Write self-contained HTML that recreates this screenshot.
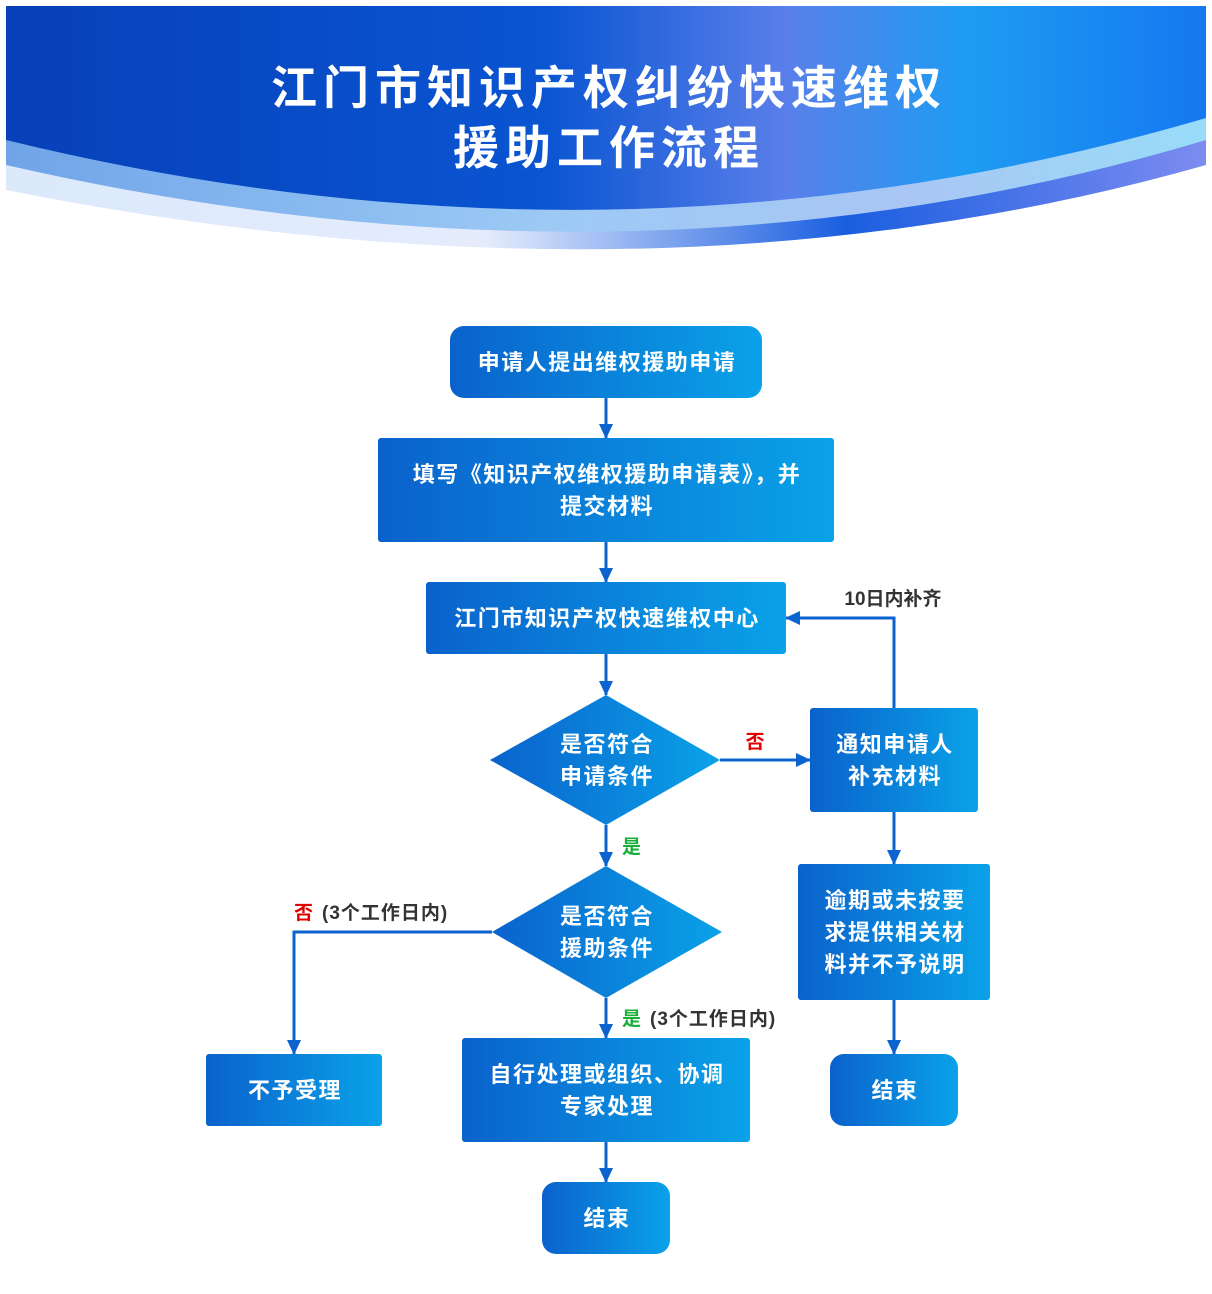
<!DOCTYPE html>
<html><head><meta charset="utf-8"><style>
html,body{margin:0;padding:0;background:#fff;}
svg{display:block;}
text{font-family:"Liberation Sans","Noto Sans CJK SC",sans-serif;font-weight:bold;}
</style></head><body>
<svg width="1212" height="1294" viewBox="0 0 1212 1294" xmlns="http://www.w3.org/2000/svg">
<defs>
<linearGradient id="main" x1="0" y1="0" x2="1" y2="0">
<stop offset="0" stop-color="#0740b8"/><stop offset="0.45" stop-color="#0a55d2"/>
<stop offset="0.65" stop-color="#5a7fea"/><stop offset="0.8" stop-color="#1e9cf2"/><stop offset="1" stop-color="#1578f0"/>
</linearGradient>
<linearGradient id="b2" x1="0" y1="0" x2="1" y2="0">
<stop offset="0" stop-color="#6fa4e8"/><stop offset="0.45" stop-color="#9ccaf5"/><stop offset="0.75" stop-color="#a9c6f4"/><stop offset="1" stop-color="#98dcf8"/>
</linearGradient>
<linearGradient id="b3" x1="0" y1="0" x2="1" y2="0">
<stop offset="0" stop-color="#dbe9fb"/><stop offset="0.4" stop-color="#e4ecfc"/><stop offset="0.7" stop-color="#1a5ee0"/><stop offset="1" stop-color="#7d8cf0"/>
</linearGradient>
<linearGradient id="node" x1="0" y1="0" x2="1" y2="0">
<stop offset="0" stop-color="#0a62cc"/><stop offset="1" stop-color="#0aa2e8"/>
</linearGradient>
<marker id="ar" markerWidth="16" markerHeight="14" refX="14" refY="7" orient="auto" markerUnits="userSpaceOnUse">
<path d="M0,0 L15,7 L0,14 Z" fill="#0b63cf"/>
</marker>
</defs>
<path d="M6,6 H1206 V165 Q660,320 6,190 Z" fill="url(#b3)"/>
<path d="M6,6 H1206 V140 Q640,310 6,165 Z" fill="url(#b2)"/>
<path d="M6,6 H1206 V118 Q620,290 6,140 Z" fill="url(#main)"/>
<text x="609" y="104" fill="#fff" font-size="46" text-anchor="middle" letter-spacing="6">江门市知识产权纠纷快速维权</text>
<text x="609" y="164" fill="#fff" font-size="46" text-anchor="middle" letter-spacing="6">援助工作流程</text>

<g stroke="#0b63cf" stroke-width="3" fill="none" marker-end="url(#ar)">
<line x1="606" y1="398" x2="606" y2="438"/>
<line x1="606" y1="542" x2="606" y2="582"/>
<line x1="606" y1="654" x2="606" y2="695"/>
<line x1="606" y1="825" x2="606" y2="866"/>
<line x1="606" y1="998" x2="606" y2="1038"/>
<line x1="606" y1="1142" x2="606" y2="1182"/>
<line x1="720" y1="760" x2="810" y2="760"/>
<polyline points="894,708 894,618 786,618"/>
<line x1="894" y1="812" x2="894" y2="864"/>
<line x1="894" y1="1000" x2="894" y2="1054"/>
<polyline points="492,932 294,932 294,1054"/>
</g>

<g fill="url(#node)">
<rect x="450" y="326" width="312" height="72" rx="14"/>
<rect x="378" y="438" width="456" height="104" rx="3"/>
<rect x="426" y="582" width="360" height="72" rx="3"/>
<polygon points="606,695 720,760 606,825 490,760"/>
<rect x="810" y="708" width="168" height="104" rx="3"/>
<polygon points="606,866 722,932 606,998 492,932"/>
<rect x="798" y="864" width="192" height="136" rx="3"/>
<rect x="830" y="1054" width="128" height="72" rx="14"/>
<rect x="206" y="1054" width="176" height="72" rx="3"/>
<rect x="462" y="1038" width="288" height="104" rx="3"/>
<rect x="542" y="1182" width="128" height="72" rx="14"/>
</g>

<g fill="#fff" font-size="22" text-anchor="middle" letter-spacing="1.5">
<text x="607" y="370">申请人提出维权援助申请</text>
<text x="607" y="482">填写《知识产权维权援助申请表》，并</text>
<text x="607" y="514">提交材料</text>
<text x="607" y="626">江门市知识产权快速维权中心</text>
<text x="607" y="752">是否符合</text>
<text x="607" y="784">申请条件</text>
<text x="895" y="752">通知申请人</text>
<text x="895" y="784">补充材料</text>
<text x="607" y="924">是否符合</text>
<text x="607" y="956">援助条件</text>
<text x="895" y="908">逾期或未按要</text>
<text x="895" y="940">求提供相关材</text>
<text x="895" y="972">料并不予说明</text>
<text x="895" y="1098">结束</text>
<text x="295" y="1098">不予受理</text>
<text x="607" y="1082">自行处理或组织、协调</text>
<text x="607" y="1114">专家处理</text>
<text x="607" y="1226">结束</text>
</g>

<g font-size="19">
<text x="755" y="748" fill="#e00000" text-anchor="middle">否</text>
<text x="893" y="605" fill="#333" text-anchor="middle">10日内补齐</text>
<text x="622" y="853" fill="#1aae3a">是</text>
<text x="294" y="919" fill="#e00000">否</text>
<text x="322" y="919" fill="#333" letter-spacing="1">(3个工作日内)</text>
<text x="622" y="1025" fill="#1aae3a">是</text>
<text x="650" y="1025" fill="#333" letter-spacing="1">(3个工作日内)</text>
</g>
</svg>
</body></html>
